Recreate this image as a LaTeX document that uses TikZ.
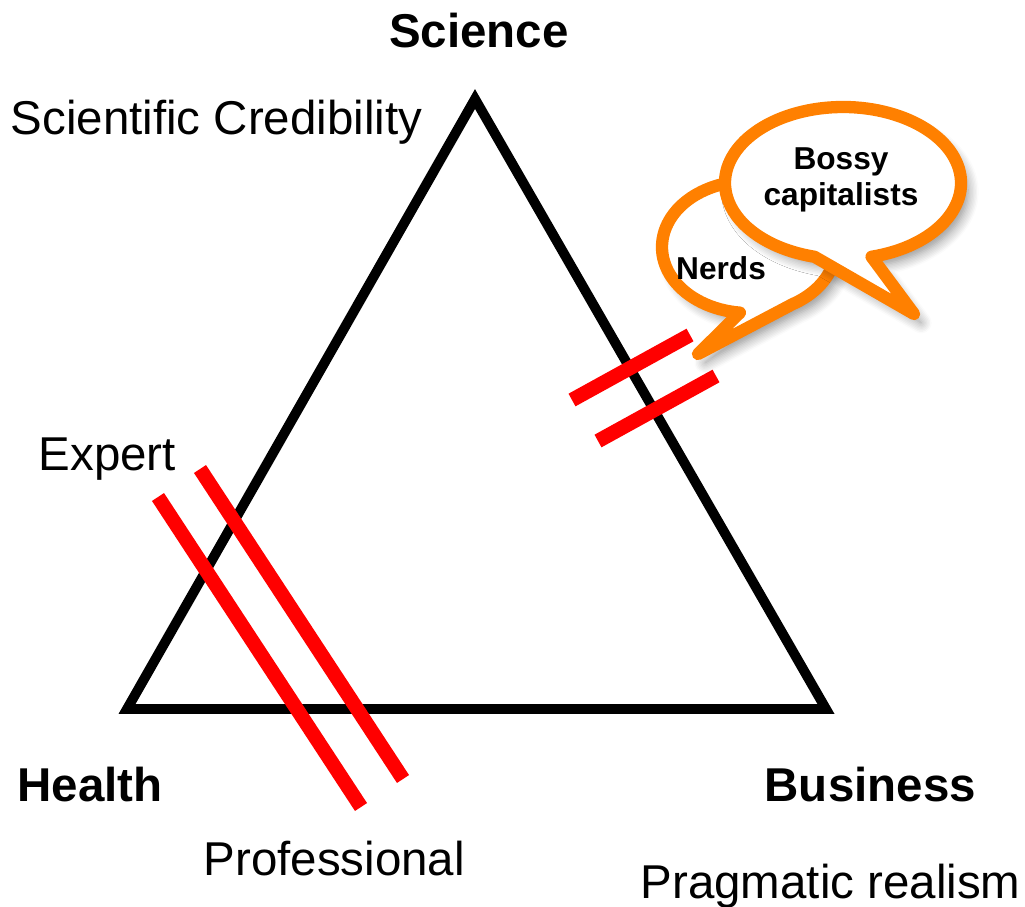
\documentclass[tikz,border=0pt]{standalone}
\usepackage{fontspec}
\setmainfont{Liberation Sans}
\usetikzlibrary{shadows.blur}

\tikzset{
    label text/.style={inner sep=0pt, font=\fontsize{13.5}{16}\selectfont},
    corner text/.style={label text, font=\fontsize{13.5}{16}\selectfont\bfseries},
    bubble text/.style={inner sep=0pt, align=center, font=\fontsize{9}{10.3}\selectfont\bfseries},
    edge line/.style={line width=2.8pt, line join=miter},
    cut line/.style={line width=4.1pt, red},
    bubble/.style={line width=3.5pt, draw=bubbleorange, fill=white, line join=round,
        blur shadow={shadow xshift=2pt, shadow yshift=-2.5pt, shadow blur radius=3pt,
            shadow blur steps=8, shadow opacity=45}},
}
\definecolor{bubbleorange}{RGB}{255,128,0}

\begin{document}
\begin{tikzpicture}[x=0.01cm, y=0.01cm]
        \useasboundingbox (0,0) rectangle (1025,-906);
        \coordinate (sci) at (475,-99);
        \coordinate (hea) at (127,-709);
        \coordinate (bus) at (826,-709);
        \draw[edge line] (sci) -- (bus) -- (hea) -- cycle;

        \coordinate (l1a) at (158,-497);
        \coordinate (l1b) at (361,-807);
        \coordinate (l2a) at (200,-469);
        \coordinate (l2b) at (403,-779);
        \coordinate (r1a) at (572,-400);
        \coordinate (r1b) at (690,-335);
        \coordinate (r2a) at (598,-441);
        \coordinate (r2b) at (716,-376);
        \draw[cut line] (l1a) -- (l1b);
        \draw[cut line] (l2a) -- (l2b);
        \draw[cut line] (r1a) -- (r1b);
        \draw[cut line] (r2a) -- (r2b);

        % speech bubbles
        \coordinate (nerdtip) at (698,-354);
        \coordinate (bosstip) at (914,-314);
        \path[bubble] (749,-247) ++(300:87 and 66)
            arc[start angle=300, end angle=624, x radius=87, y radius=66]
            -- (nerdtip) -- cycle;
        \path[bubble] (843,-183) ++(284:118 and 76)
            arc[start angle=284, end angle=616, x radius=118, y radius=76]
            -- (bosstip) -- cycle;
        \node[bubble text] (nerds) at (721,-268) {Nerds};
        \node[bubble text] (bossy) at (841,-180) {Bossy\\capitalists};

        \node[corner text, anchor=base] (science) at (479,-47) {Science};
        \node[corner text, anchor=base west] (health) at (17,-801) {Health};
        \node[corner text, anchor=base west] (business) at (764,-801) {Business};
        \node[label text, anchor=base west] (credib) at (10,-134) {Scientific Credibility};
        \node[label text, anchor=base west] (expert) at (38,-470) {Expert};
        \node[label text, anchor=base west] (prof) at (203,-875) {Professional};
        \node[label text, anchor=base west] (pragm) at (640,-898) {Pragmatic realism};
\end{tikzpicture}
\end{document}
